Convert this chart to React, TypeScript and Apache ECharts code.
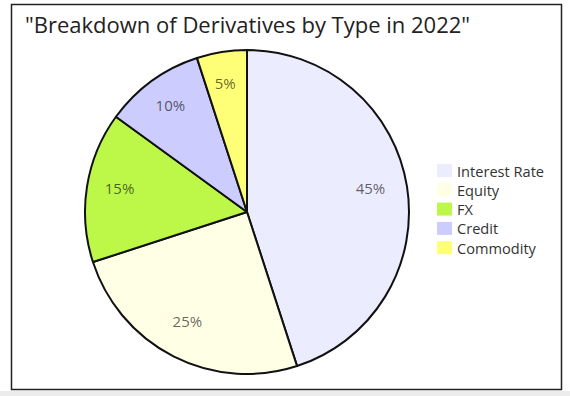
import React, { useEffect, useRef } from "react";
import * as echarts from "echarts";

const categories = ["Interest Rate", "Equity", "FX", "Credit", "Commodity"];
const shares = [45, 25, 15, 10, 5];
const colors = ["#ececff", "#ffffe6", "#bdf748", "#ccccff", "#ffff77"];
const titleText = '"Breakdown of Derivatives by Type in 2022"';

export default function App() {
  const ref = useRef<HTMLDivElement>(null);
  useEffect(() => {
    document.body.style.margin = "0";
    const chart = echarts.init(ref.current!, null, { renderer: "svg" });
    const data = categories.map((name, i) => ({
      name,
      value: shares[i],
      itemStyle: { color: colors[i] },
    }));
    chart.setOption({
      animation: false,
      backgroundColor: "#ffffff",
      textStyle: { fontFamily: "Open Sans" },
      title: {
        text: titleText,
        left: 20,
        top: 8,
        textStyle: {
          fontFamily: "Open Sans",
          fontSize: 22,
          fontWeight: "normal",
          color: "#222222",
        },
      },
      legend: {
        orient: "vertical",
        left: 432,
        top: 158,
        itemWidth: 15,
        itemHeight: 13,
        itemGap: 4.3,
        icon: "rect",
        itemStyle: { borderWidth: 0 },
        data: categories,
        textStyle: { fontSize: 14.6, lineHeight: 15, color: "#333333", fontFamily: "Open Sans" },
      },
      graphic: [
        {
          type: "rect",
          shape: { x: 11.5, y: 4.5, width: 550, height: 385 },
          style: { fill: "none", stroke: "#222222", lineWidth: 1.5 },
          silent: true,
          z: 100,
        },
        {
          type: "rect",
          shape: { x: 0, y: 391, width: 570, height: 5 },
          style: { fill: "#ececec" },
          silent: true,
        },
      ],
      series: [
        {
          type: "pie",
          center: [247, 212],
          radius: [0, 162],
          startAngle: 90,
          clockwise: true,
          label: { show: false },
          labelLine: { show: false },
          itemStyle: { borderColor: "#111111", borderWidth: 2 },
          emphasis: { disabled: true },
          data,
        },
        {
          type: "pie",
          center: [247, 212],
          radius: [86, 162],
          startAngle: 90,
          clockwise: true,
          silent: true,
          itemStyle: { color: "rgba(0,0,0,0)", borderWidth: 0 },
          label: {
            show: true,
            position: "inside",
            formatter: "{c}%",
            fontSize: 15,
            offset: [-2, -4],
            color: "rgba(0,0,0,0.62)",
            fontFamily: "Open Sans",
          },
          labelLine: { show: false },
          emphasis: { disabled: true },
          data: categories.map((name, i) => ({ name, value: shares[i] })),
        },
      ],
    });
    return () => chart.dispose();
  }, []);
  return <div ref={ref} style={{ width: 570, height: 396 }} />;
}
